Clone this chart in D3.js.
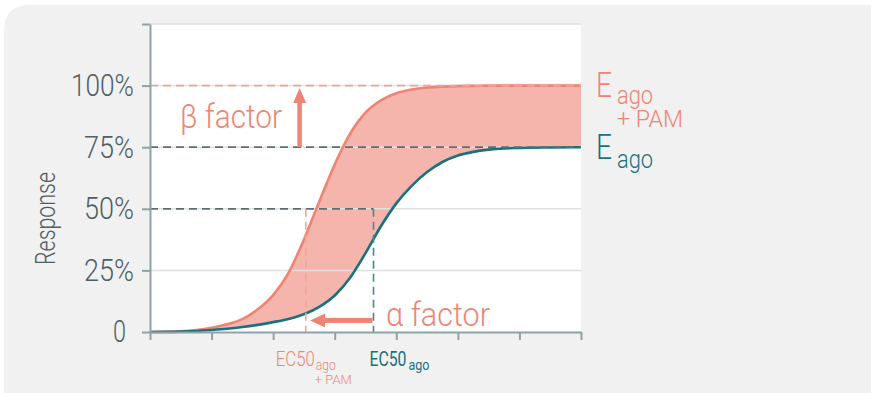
<!DOCTYPE html>
<html>
<head>
<meta charset="utf-8">
<script src="https://cdn.jsdelivr.net/npm/d3@7/dist/d3.min.js"></script>
<style>
  html, body { margin: 0; padding: 0; background: #ffffff; }
  svg { display: block; font-family: Roboto, "Noto Sans", sans-serif; }
</style>
</head>
<body>
<svg id="chart" width="871" height="393"></svg>
<script>
// Concentration axis (arbitrary log units) and the two dose-response curves
const conc    = [0, 0.25, 0.5, 0.75, 1.0, 1.25, 1.5, 1.75, 2.0, 2.25, 2.5, 2.75, 3.0, 3.25, 3.5, 3.75, 4.0, 4.25, 4.5, 4.75, 5.0, 5.25, 5.5, 5.75, 6.0, 6.5, 7.0];
const respPam = [0, 0.001, 0.003, 0.008, 0.017, 0.031, 0.052, 0.092, 0.15, 0.24, 0.375, 0.53, 0.68, 0.805, 0.89, 0.94, 0.969, 0.984, 0.992, 0.996, 0.998, 0.999, 1.0, 1.0, 1.0, 1.0, 1.0];
const respAgo = [0, 0.0005, 0.0015, 0.004, 0.008, 0.013, 0.02, 0.029, 0.04, 0.053, 0.072, 0.102, 0.148, 0.22, 0.32, 0.429, 0.522, 0.593, 0.649, 0.69, 0.716, 0.731, 0.74, 0.745, 0.747, 0.749, 0.75];

// Maximal effects and EC50 markers
const emaxPam = 1.0;
const emaxAgo = 0.75;
const ec50Pam = 2.53;
const ec50Ago = 3.63;

// Axis ticks
const yTicks = [0, 0.25, 0.5, 0.75, 1.0, 1.25];
const yTickLabels = ["0", "25%", "50%", "75%", "100%", ""];
const xTicks = [0, 1, 2, 3, 4, 5, 6, 7];

// Annotation arrows
const betaArrowX = 2.43;
const betaArrowTop = 0.99;
const alphaArrowY = 0.047;
const alphaArrowTip = 2.6;

const salmon = "#f08474";
const salmonLight = "#f4a395";
const fillPink = "#f5b5ac";
const teal = "#18717e";
const tealDash = "#3e8d98";
const greyDash = "#5d6d70";
const axisCol = "#8fa3a7";
const labelCol = "#4f6064";

const svg = d3.select("#chart");

const x = d3.scaleLinear().domain([0, 7]).range([150, 581]);
const y = d3.scaleLinear().domain([0, 1.25]).range([332, 24]);

// Background panel with a rounded top-left corner
const r = 26;
svg.append("path")
  .attr("d", `M4,${5 + r} Q4,5 ${4 + r},5 L871,5 L871,393 L4,393 Z`)
  .attr("fill", "#f1f1f1");

// Plot area
svg.append("rect")
  .attr("x", x(0)).attr("y", y(1.25))
  .attr("width", x(7) - x(0)).attr("height", y(0) - y(1.25))
  .attr("fill", "#ffffff");

const pts = conc.map((c, i) => ({ c, pam: respPam[i], ago: respAgo[i] }));

// Band between the two curves
svg.append("path")
  .datum(pts)
  .attr("fill", fillPink)
  .attr("d", d3.area()
    .x(d => x(d.c))
    .y0(d => y(d.ago))
    .y1(d => y(d.pam))
    .curve(d3.curveMonotoneX));

// Horizontal gridlines
svg.append("g")
  .selectAll("line")
  .data(yTicks.filter(v => v > 0))
  .join("line")
  .attr("x1", x(0)).attr("x2", x(7))
  .attr("y1", d => y(d)).attr("y2", d => y(d))
  .attr("stroke", "#e0e0e0")
  .attr("stroke-width", 1.5);

// Curves
const line = key => d3.line().x(d => x(d.c)).y(d => y(d[key])).curve(d3.curveMonotoneX);
svg.append("path").datum(pts)
  .attr("fill", "none").attr("stroke", salmon).attr("stroke-width", 2.6)
  .attr("d", line("pam"));
svg.append("path").datum(pts)
  .attr("fill", "none").attr("stroke", teal).attr("stroke-width", 2.6)
  .attr("d", line("ago"));

// Reference dashed lines
const dash = "8,5";
svg.append("line")
  .attr("x1", x(0)).attr("x2", x(7)).attr("y1", y(emaxPam)).attr("y2", y(emaxPam))
  .attr("stroke", salmonLight).attr("stroke-width", 1.8).attr("stroke-dasharray", dash);
svg.append("line")
  .attr("x1", x(0)).attr("x2", x(7)).attr("y1", y(emaxAgo)).attr("y2", y(emaxAgo))
  .attr("stroke", greyDash).attr("stroke-width", 1.8).attr("stroke-dasharray", dash);
svg.append("line")
  .attr("x1", x(0)).attr("x2", x(ec50Ago)).attr("y1", y(0.5)).attr("y2", y(0.5))
  .attr("stroke", greyDash).attr("stroke-width", 1.8).attr("stroke-dasharray", dash);
svg.append("line")
  .attr("x1", x(ec50Pam)).attr("x2", x(ec50Pam)).attr("y1", y(0.5)).attr("y2", y(0))
  .attr("stroke", salmonLight).attr("stroke-width", 1.6).attr("stroke-dasharray", dash);
svg.append("line")
  .attr("x1", x(ec50Ago)).attr("x2", x(ec50Ago)).attr("y1", y(0.5)).attr("y2", y(0))
  .attr("stroke", tealDash).attr("stroke-width", 1.6).attr("stroke-dasharray", dash);

// Beta arrow (efficacy shift)
{
  const bx = x(betaArrowX), tip = y(betaArrowTop), base = y(emaxAgo);
  const headLen = 15, headHalf = 6.5, shaft = 4.5;
  svg.append("rect")
    .attr("x", bx - shaft / 2).attr("y", tip + headLen - 1)
    .attr("width", shaft).attr("height", base - tip - headLen + 1)
    .attr("fill", salmon);
  svg.append("path")
    .attr("d", `M${bx},${tip} L${bx + headHalf},${tip + headLen} L${bx - headHalf},${tip + headLen} Z`)
    .attr("fill", salmon);
}

// Alpha arrow (potency shift)
{
  const ay = y(alphaArrowY), tip = x(alphaArrowTip), end = x(ec50Ago) - 1;
  const headLen = 15, headHalf = 7, shaft = 5;
  svg.append("rect")
    .attr("x", tip + headLen - 1).attr("y", ay - shaft / 2)
    .attr("width", end - tip - headLen + 1).attr("height", shaft)
    .attr("fill", salmon);
  svg.append("path")
    .attr("d", `M${tip},${ay} L${tip + headLen},${ay - headHalf} L${tip + headLen},${ay + headHalf} Z`)
    .attr("fill", salmon);
}

// Axes
const yAxis = svg.append("g")
  .attr("transform", `translate(${x(0)},0)`)
  .call(d3.axisLeft(y)
    .tickValues(yTicks)
    .tickFormat((d, i) => yTickLabels[i])
    .tickSize(8).tickSizeOuter(0).tickPadding(8));
const labelWidths = { "0": 13, "25%": 50, "50%": 50, "75%": 50, "100%": 63 };
yAxis.selectAll("text")
  .attr("fill", labelCol)
  .attr("font-size", 31)
  .attr("font-weight", 300)
  .attr("font-family", "Roboto, sans-serif")
  .attr("dx", (d, i) => yTickLabels[i] === "0" ? -8 : 0)
  .attr("textLength", (d, i) => labelWidths[yTickLabels[i]] || null)
  .attr("lengthAdjust", "spacingAndGlyphs");

const xAxis = svg.append("g")
  .attr("transform", `translate(0,${y(0)})`)
  .call(d3.axisBottom(x).tickValues(xTicks).tickFormat("").tickSize(8).tickSizeOuter(0));

[yAxis, xAxis].forEach(g => {
  g.selectAll("path, line").attr("stroke", axisCol).attr("stroke-width", 2);
});

// Text helper
function label(txt, px, py, size, color, width, weight = 300) {
  return svg.append("text")
    .attr("x", px).attr("y", py)
    .attr("font-size", size)
    .attr("font-weight", weight)
    .attr("fill", color)
    .attr("textLength", width)
    .attr("lengthAdjust", "spacingAndGlyphs")
    .text(txt);
}

// Y axis title
svg.append("text")
  .attr("transform", "translate(55,218.5) rotate(-90)")
  .attr("text-anchor", "middle")
  .attr("font-size", 28)
  .attr("font-weight", 300)
  .attr("fill", labelCol)
  .attr("textLength", 93)
  .attr("lengthAdjust", "spacingAndGlyphs")
  .text("Response");

// Factor annotations
label("β factor", 180, 128, 34, salmon, 102);
label("α factor", 386, 326, 34, salmon, 104);

// Emax labels
label("E", 596, y(emaxPam) + 11.5, 35, salmon, 16);
label("ago", 617, y(emaxPam) + 18, 25, salmon, 36);
label("+ PAM", 617, y(emaxPam) + 41.5, 24, salmon, 66);
label("E", 596, y(emaxAgo) + 12, 35, teal, 16);
label("ago", 617, y(emaxAgo) + 21, 25, teal, 36);

// EC50 labels
label("EC50", x(ec50Pam) - 30, 366, 20, salmon, 39);
label("ago", x(ec50Pam) + 10, 369.5, 15, salmon, 20);
label("+ PAM", x(ec50Pam) + 9, 383.5, 12, salmon, 37);
label("EC50", x(ec50Ago) - 4, 366, 20, teal, 37, 400);
label("ago", x(ec50Ago) + 35, 369.5, 15, teal, 21, 400);
</script>
</body>
</html>
